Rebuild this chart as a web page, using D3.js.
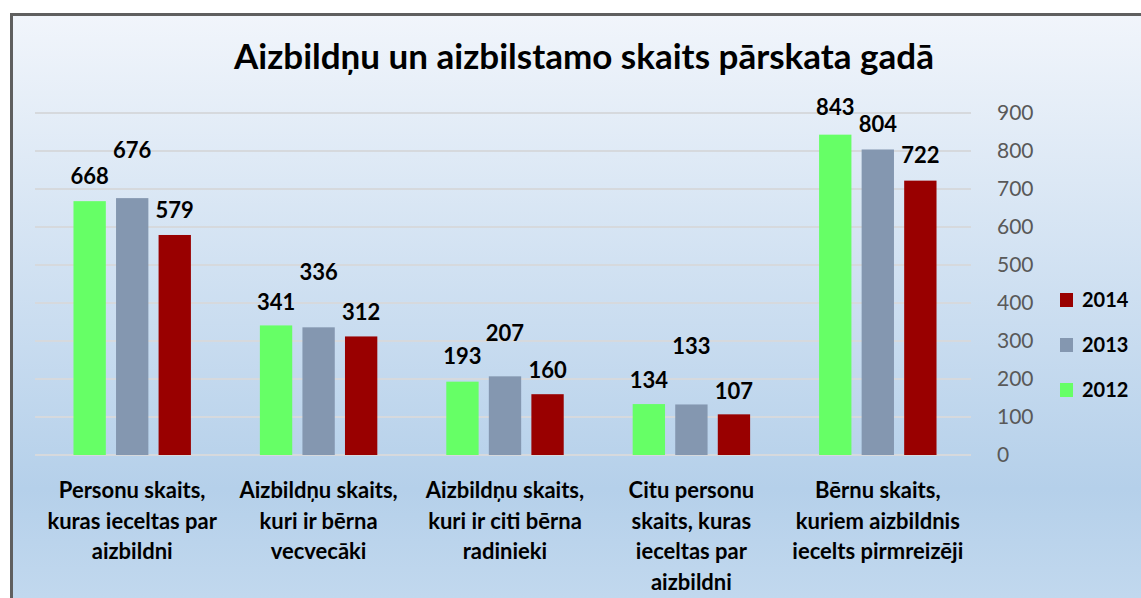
<!DOCTYPE html>
<html>
<head>
<meta charset="utf-8">
<script src="https://cdn.jsdelivr.net/npm/d3@7"></script>
<style>
  html, body { margin: 0; padding: 0; background: #fff; }
  svg { display: block; font-family: Lato, "Open Sans", sans-serif; }
</style>
</head>
<body>
<svg id="chart"></svg>
<script>
const titleText = "Aizbildņu un aizbilstamo skaits pārskata gadā";

const categories = [
    ["Personu skaits,", "kuras ieceltas par", "aizbildni"],
    ["Aizbildņu skaits,", "kuri ir bērna", "vecvecāki"],
    ["Aizbildņu skaits,", "kuri ir citi bērna", "radinieki"],
    ["Citu personu", "skaits, kuras", "ieceltas par", "aizbildni"],
    ["Bērnu skaits,", "kuriem aizbildnis", "iecelts pirmreizēji"]
];

const years = ["2012", "2013", "2014"];
const values2012 = [668, 341, 193, 134, 843];
const values2013 = [676, 336, 207, 133, 804];
const values2014 = [579, 312, 160, 107, 722];

const yTicks = [0, 100, 200, 300, 400, 500, 600, 700, 800, 900];

// how far (px) each value label sits above its bar, as in the original
const labelLift = {
    "2012": [25, 23, 25, 24, 27],
    "2013": [48, 55, 43, 58, 25],
    "2014": [24, 24, 24, 23, 25]
};

const colors = {"2012": "#66ff66", "2013": "#8497b0", "2014": "#990000"};

const svgWidth = 1141, svgHeight = 598;
const plot = {left: 39, right: 971, top: 113, bottom: 455};

const chart = d3.select("#chart")
    .attr("width", svgWidth)
    .attr("height", svgHeight);

// background gradient
const defs = chart.append("defs");
const grad = defs.append("linearGradient")
    .attr("id", "bg")
    .attr("x1", 0).attr("y1", 0).attr("x2", 0).attr("y2", 1);
grad.append("stop").attr("offset", "0%").attr("stop-color", "#f1f5fb");
grad.append("stop").attr("offset", "78%").attr("stop-color", "#b5d0ea");
grad.append("stop").attr("offset", "100%").attr("stop-color", "#c4daef");

chart.append("rect")
    .attr("x", 11.5).attr("y", 14.5)
    .attr("width", svgWidth + 10).attr("height", svgHeight + 10)
    .attr("fill", "url(#bg)")
    .attr("stroke", "#5f5f5f")
    .attr("stroke-width", 3);

// scales
const x0 = d3.scaleBand()
    .domain(d3.range(categories.length))
    .range([plot.left, plot.right])
    .paddingInner(0.37)
    .paddingOuter(0.185);

const x1 = d3.scaleBand()
    .domain(years)
    .range([0, x0.bandwidth()])
    .paddingInner(0.24);

const yScale = d3.scaleLinear()
    .domain([0, 900])
    .range([plot.bottom, plot.top]);

// grid lines
chart.append("g")
    .selectAll("line")
    .data(yTicks)
    .enter().append("line")
    .attr("x1", plot.left - 4)
    .attr("x2", plot.right)
    .attr("y1", d => yScale(d))
    .attr("y2", d => yScale(d))
    .attr("stroke", "#d6d9dd")
    .attr("stroke-width", 2);

// right y axis
const yAxis = d3.axisRight(yScale).tickValues(yTicks).tickSize(0).tickPadding(26);
const yG = chart.append("g")
    .attr("transform", `translate(${plot.right},0)`)
    .call(yAxis);
yG.select(".domain").remove();
yG.selectAll("text")
    .attr("fill", "#595959")
    .style("font-size", "21px")
    .style("font-family", "Lato, sans-serif");

// bars
const seriesData = {"2012": values2012, "2013": values2013, "2014": values2014};

const groups = chart.append("g")
    .selectAll("g")
    .data(categories.map((c, i) => i))
    .enter().append("g")
    .attr("transform", i => `translate(${x0(i)},0)`);

groups.selectAll("rect")
    .data(i => years.map(yr => ({year: yr, value: seriesData[yr][i], idx: i})))
    .enter().append("rect")
    .attr("x", d => x1(d.year))
    .attr("width", x1.bandwidth())
    .attr("y", d => yScale(d.value))
    .attr("height", d => yScale(0) - yScale(d.value))
    .attr("fill", d => colors[d.year]);

groups.selectAll("text.val")
    .data(i => years.map(yr => ({year: yr, value: seriesData[yr][i], idx: i})))
    .enter().append("text")
    .attr("class", "val")
    .attr("x", d => x1(d.year) + x1.bandwidth() / 2)
    .attr("y", d => yScale(d.value) - labelLift[d.year][d.idx] + 7.5)
    .attr("text-anchor", "middle")
    .style("font-size", "22px")
    .style("font-weight", "bold")
    .attr("fill", "#000")
    .text(d => d.value);

// category labels
const catG = chart.append("g");
categories.forEach(function(lines, i) {
    const t = catG.append("text")
        .attr("x", x0(i) + x0.bandwidth() / 2)
        .attr("y", 498)
        .attr("text-anchor", "middle")
        .style("font-size", "22px")
        .style("font-weight", "bold")
        .attr("fill", "#000");
    lines.forEach(function(line, j) {
        t.append("tspan")
            .attr("x", x0(i) + x0.bandwidth() / 2)
            .attr("dy", j == 0 ? 0 : 30.5)
            .text(line);
    });
});

// title
chart.append("text")
    .attr("x", 584)
    .attr("y", 69)
    .attr("text-anchor", "middle")
    .style("font-size", "35px")
    .style("font-weight", "bold")
    .attr("fill", "#000")
    .text(titleText);

// legend
const legendYears = ["2014", "2013", "2012"];
const legend = chart.append("g")
    .selectAll("g")
    .data(legendYears)
    .enter().append("g")
    .attr("transform", (d, i) => `translate(1060,${300 + i * 45})`);

legend.append("rect")
    .attr("x", 0).attr("y", -7)
    .attr("width", 13).attr("height", 14)
    .attr("fill", d => colors[d]);

legend.append("text")
    .attr("x", 22)
    .attr("y", 7)
    .style("font-size", "20px")
    .style("font-weight", "bold")
    .attr("fill", "#000")
    .text(d => d);
</script>
</body>
</html>
